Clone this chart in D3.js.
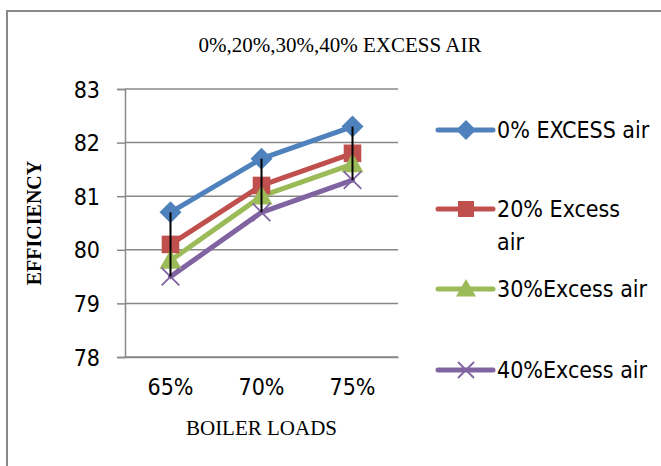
<!DOCTYPE html>
<html>
<head>
<meta charset="utf-8">
<script src="https://cdn.jsdelivr.net/npm/d3@7/dist/d3.min.js"></script>
<style>
  html, body { margin: 0; padding: 0; background: #fff; }
  svg { display: block; }
  .narrow { font-family: "Liberation Sans Narrow", "Arial Narrow", "DejaVu Sans Condensed", sans-serif; }
  .serif { font-family: "Liberation Serif", "Times New Roman", serif; }
</style>
</head>
<body>
<svg id="chart" width="661" height="466"></svg>
<script>
// Boiler efficiency at three loads for four excess-air settings
const categories = ["65%", "70%", "75%"];
const seriesNames = ["0% EXCESS air", "20% Excess air", "30%Excess air", "40%Excess air"];
const air0 = [80.7, 81.7, 82.3];
const air20 = [80.1, 81.2, 81.8];
const air30 = [79.8, 81.0, 81.6];
const air40 = [79.5, 80.7, 81.3];
const yTicks = [78, 79, 80, 81, 82, 83];

const seriesValues = [air0, air20, air30, air40];
const colors = ["#4F81BD", "#C0504D", "#9BBB59", "#8064A2"];
const markers = ["diamond", "square", "triangle", "cross"];

const svg = d3.select("#chart");
const grey = "#888888";

// chart frame (top and left edges visible)
svg.append("path")
  .attr("d", "M7,466 L7,11 L661,11")
  .attr("fill", "none").attr("stroke", grey).attr("stroke-width", 2);

// title
svg.append("text").attr("class", "serif")
  .attr("x", 340).attr("y", 52).attr("text-anchor", "middle")
  .attr("font-size", 21).text("0%,20%,30%,40% EXCESS AIR");

const plot = { left: 125, right: 398, top: 89, bottom: 357 };

const x = d3.scaleBand().domain(categories).range([plot.left, plot.right]);
const y = d3.scaleLinear().domain([78, 83]).range([plot.bottom, plot.top]);
const cx = c => x(c) + x.bandwidth() / 2;

// horizontal gridlines
svg.append("g").selectAll("line").data(yTicks).join("line")
  .attr("x1", plot.left).attr("x2", plot.right)
  .attr("y1", d => y(d)).attr("y2", d => y(d))
  .attr("stroke", grey).attr("stroke-width", 1.5);

// y axis
const yAxis = svg.append("g").attr("transform", `translate(${plot.left},0)`)
  .call(d3.axisLeft(y).tickValues(yTicks).tickSize(8).tickPadding(17).tickFormat(d3.format("d")));
yAxis.select(".domain").attr("stroke", grey).attr("stroke-width", 1.5);
yAxis.selectAll(".tick line").attr("stroke", grey).attr("stroke-width", 1.5);
yAxis.selectAll(".tick text").attr("class", "narrow").attr("font-size", 23)
  .attr("fill", "#000").attr("dy", "0.35em");

// x axis
const xAxis = svg.append("g").attr("transform", `translate(0,${plot.bottom})`)
  .call(d3.axisBottom(x).tickSize(0).tickPadding(22));
xAxis.select(".domain").attr("stroke", grey).attr("stroke-width", 1.5);
xAxis.selectAll(".tick text").attr("class", "narrow").attr("font-size", 23).attr("fill", "#000");

// axis titles
svg.append("text").attr("class", "serif")
  .attr("x", cx("70%")).attr("y", 435).attr("text-anchor", "middle")
  .attr("font-size", 21).text("BOILER LOADS");
svg.append("text").attr("class", "serif")
  .attr("transform", `translate(41,${(plot.top + plot.bottom) / 2}) rotate(-90)`)
  .attr("text-anchor", "middle").attr("font-weight", "bold")
  .attr("font-size", 20).text("EFFICIENCY");

// marker drawing
function drawMarker(g, type, color, px, py, s) {
  if (type === "diamond") {
    g.append("path").attr("d", `M${px},${py - s} L${px + s},${py} L${px},${py + s} L${px - s},${py} Z`)
      .attr("fill", color);
  } else if (type === "square") {
    g.append("rect").attr("x", px - s * 0.8).attr("y", py - s * 0.8)
      .attr("width", s * 1.6).attr("height", s * 1.6).attr("fill", color);
  } else if (type === "triangle") {
    g.append("path").attr("d", `M${px},${py - s} L${px + s},${py + s * 0.75} L${px - s},${py + s * 0.75} Z`)
      .attr("fill", color);
  } else {
    g.append("path").attr("d", `M${px - s * 0.8},${py - s * 0.8} L${px + s * 0.8},${py + s * 0.8} M${px + s * 0.8},${py - s * 0.8} L${px - s * 0.8},${py + s * 0.8}`)
      .attr("stroke", color).attr("stroke-width", 1.8).attr("fill", "none");
  }
}

const line = d3.line().x(d => cx(d.c)).y(d => y(d.v));

// series lines
seriesValues.forEach((vals, i) => {
  const pts = categories.map((c, j) => ({ c, v: vals[j] }));
  svg.append("path").datum(pts).attr("d", line)
    .attr("fill", "none").attr("stroke", colors[i]).attr("stroke-width", 5)
    .attr("stroke-linejoin", "round").attr("stroke-linecap", "round");
});

// series markers
seriesValues.forEach((vals, i) => {
  const g = svg.append("g");
  categories.forEach((c, j) => drawMarker(g, markers[i], colors[i], cx(c), y(vals[j]), 11));
});

// high-low lines per load
svg.append("g").selectAll("line").data(categories).join("line")
  .attr("x1", c => cx(c)).attr("x2", c => cx(c))
  .attr("y1", (c, j) => y(d3.max(seriesValues, s => s[j])))
  .attr("y2", (c, j) => y(d3.min(seriesValues, s => s[j])))
  .attr("stroke", "#000").attr("stroke-width", 2);

// legend
const legendRows = [
  { lines: ["0% EXCESS air"], y: 130 },
  { lines: ["20% Excess", "air"], y: 209 },
  { lines: ["30%Excess air"], y: 289 },
  { lines: ["40%Excess air"], y: 370 }
];
legendRows.forEach((r, i) => {
  const g = svg.append("g");
  g.append("line").attr("x1", 438).attr("x2", 493).attr("y1", r.y).attr("y2", r.y)
    .attr("stroke", colors[i]).attr("stroke-width", 5).attr("stroke-linecap", "round");
  drawMarker(g, markers[i], colors[i], 466, r.y, 10);
  r.lines.forEach((t, k) => {
    g.append("text").attr("class", "narrow").attr("x", 497).attr("y", r.y + k * 33)
      .attr("dy", "0.35em").attr("font-size", 23).text(t);
  });
});
</script>
</body>
</html>
